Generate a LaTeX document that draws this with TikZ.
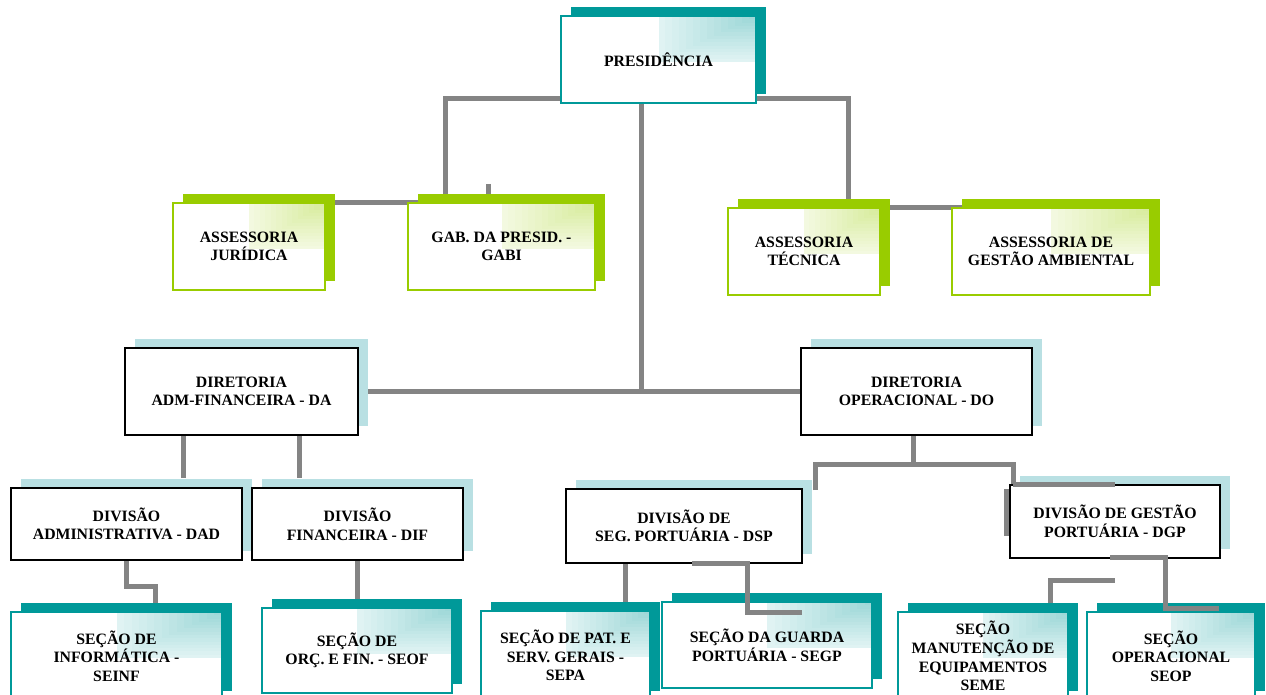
\documentclass[tikz,border=0pt]{standalone}
\usepackage{fontspec}
\setmainfont{Liberation Serif}
\usetikzlibrary{shadows,calc}
\definecolor{tealc}{HTML}{009999}
\definecolor{greenc}{HTML}{99CC00}
\definecolor{lblue}{HTML}{B9E0E3}
\definecolor{greyc}{HTML}{848484}
\tikzset{
  corner shade/.style={path picture={
    \foreach \i in {0,...,13}{
      \pgfmathsetmacro\shfrac{1-\i/14}
      \pgfmathsetmacro\shpct{12+\i*2.0}
      \fill[#1!\shpct!white]
        ($(path picture bounding box.north east)!{0.5*\shfrac}!(path picture bounding box.north west)$)
        rectangle ([yshift={-\shfrac*46pt}]path picture bounding box.north east);
    }}},
  unitbox/.style={rectangle, align=center, fill=white, inner sep=0pt,
    font=\bfseries\fontsize{15.8pt}{18.6pt}\selectfont},
  tealbox/.style={unitbox, draw=tealc, line width=2pt,
    general shadow={fill=tealc, shadow xshift=10pt, shadow yshift=9pt},
    corner shade=tealc},
  greenbox/.style={unitbox, draw=greenc, line width=2pt,
    general shadow={fill=greenc, shadow xshift=10pt, shadow yshift=9pt},
    corner shade=greenc},
  bluebox/.style={unitbox, draw=black, line width=1.6pt,
    general shadow={fill=lblue, shadow xshift=10pt, shadow yshift=9pt}},
  conn/.style={draw=greyc, line width=5pt},
  sz/.style n args={2}{minimum width=#1pt, minimum height=#2pt}
}
\begin{document}
\begin{tikzpicture}[x=1pt,y=-1pt]
\useasboundingbox (0,0) rectangle (1266,695);
% coordinates for connector bends
\coordinate (pL) at (445,99);
\coordinate (pLd) at (445,203);
\coordinate (stA) at (488,184);
\coordinate (stB) at (488,200);
\coordinate (pR) at (848,99);
\coordinate (pRd) at (848,208);
\coordinate (trA) at (641.5,103);
\coordinate (trB) at (641.5,391);
\coordinate (daA) at (183,478);
\coordinate (daB) at (183,425);
\coordinate (daC) at (299,425);
\coordinate (daD) at (299,478);
\coordinate (s1a) at (126,586);
\coordinate (s1b) at (155,586);
\coordinate (s1c) at (155,606);
\coordinate (doA) at (913,435);
\coordinate (doB) at (913,464);
\coordinate (doL) at (815,464);
\coordinate (doLd) at (815,490);
\coordinate (doR) at (1013,464);
\coordinate (doRd) at (1013,484);
\coordinate (doRe) at (1115,484);
\coordinate (gpA) at (1006,489);
\coordinate (gpB) at (1006,536);
\coordinate (spA) at (625,563);
\coordinate (spB) at (625,606);
\coordinate (sgA) at (692,563);
\coordinate (sgB) at (747,563);
\coordinate (sgC) at (747,612);
\coordinate (sgD) at (802,612);
\coordinate (gmA) at (1110,557);
\coordinate (gmB) at (1165,557);
\coordinate (gmC) at (1165,608);
\coordinate (gmD) at (1219,608);
\coordinate (smA) at (1050,606);
\coordinate (smB) at (1050,580);
\coordinate (smC) at (1115,580);

% connectors behind the boxes
\draw[conn] (561,99) -- (pL) -- (pLd);
\draw[conn] (stA) -- (stB);
\draw[conn] (325,203) -- (418,203);
\draw[conn] (756,99) -- (pR) -- (pRd);
\draw[conn] (880,208) -- (962,208);
\draw[conn] (trA) -- (trB) ;
\draw[conn] (358,391) -- (801,391);
\draw[conn] (daA) -- (daB) -- (daC) -- (daD);
\draw[conn] (126,560) -- (s1a) -- (s1b) -- (s1c);
\draw[conn] (357,560) -- (357,602);
\draw[conn] (doA) -- (doB);
\draw[conn] (doLd) -- (doL) -- (doR) -- (doRd);
\draw[conn] (spA) -- (spB);
\draw[conn] (smA) -- (smB) -- (smC);

% boxes
\node[tealbox, sz={195}{87}] (pres) at (658.5,59.5) {PRESIDÊNCIA};
\node[greenbox, sz={152}{87}] (jur) at (249,246.5) {ASSESSORIA\\JURÍDICA};
\node[greenbox, sz={187}{87}] (gabi) at (501.5,246.5) {GAB. DA PRESID. -\\GABI};
\node[greenbox, sz={152}{87}] (tec) at (804,251.5) {ASSESSORIA\\TÉCNICA};
\node[greenbox, sz={198}{87}] (amb) at (1051,251.5) {ASSESSORIA DE\\GESTÃO AMBIENTAL};
\node[bluebox, sz={233}{87}] (da) at (241.5,391.5) {DIRETORIA\\ADM-FINANCEIRA - DA};
\node[bluebox, sz={231}{87}] (do) at (916.5,391.5) {DIRETORIA\\OPERACIONAL - DO};
\node[bluebox, sz={231}{72}] (dad) at (126.5,524) {DIVISÃO\\ADMINISTRATIVA - DAD};
\node[bluebox, sz={211}{72}] (dif) at (357.5,524) {DIVISÃO\\FINANCEIRA - DIF};
\node[bluebox, sz={236}{74}] (dsp) at (684,526) {DIVISÃO DE\\SEG. PORTUÁRIA - DSP};
\node[bluebox, sz={210}{73}] (dgp) at (1115,521.5) {DIVISÃO DE GESTÃO\\PORTUÁRIA - DGP};
\node[tealbox, sz={211}{88}] (seinf) at (116.5,656) {SEÇÃO DE\\INFORMÁTICA -\\SEINF};
\node[tealbox, sz={190}{85}] (seof) at (357,650.5) {SEÇÃO DE\\ORÇ. E FIN. - SEOF};
\node[tealbox, sz={169}{89}] (sepa) at (565.5,655.5) {SEÇÃO DE PAT. E\\SERV. GERAIS -\\SEPA};
\node[tealbox, sz={210}{86}] (segp) at (767,645) {SEÇÃO DA GUARDA\\PORTUÁRIA - SEGP};
\node[tealbox, sz={170}{88}] (seme) at (983,656) {SEÇÃO\\MANUTENÇÃO DE\\EQUIPAMENTOS\\SEME};
\node[tealbox, sz={168}{88}] (seop) at (1171,656) {SEÇÃO\\OPERACIONAL\\SEOP};

% connectors drawn over the boxes
\draw[conn] (doRd) -- (doRe);
\draw[conn] (gpA) -- (gpB);
\draw[conn] (sgA) -- (sgB) -- (sgC) -- (sgD);
\draw[conn] (gmA) -- (gmB) -- (gmC) -- (gmD);
\end{tikzpicture}
\end{document}
